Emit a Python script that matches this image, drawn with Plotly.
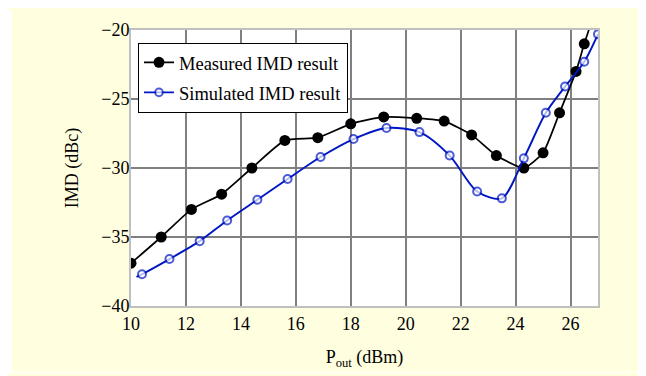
import plotly.graph_objects as go

meas_x = [10.0, 11.1, 12.2, 13.3, 14.4, 15.6, 16.8, 18.0, 19.2, 20.4, 21.4, 22.4, 23.3, 24.3, 25.0, 25.6, 26.2, 26.5, 26.9]
meas_y = [-36.9, -35.0, -33.0, -31.9, -30.0, -28.0, -27.8, -26.8, -26.3, -26.4, -26.6, -27.6, -29.1, -30.0, -28.9, -26.0, -23.0, -21.0, -18.6]

sim_x = [10.2, 10.4, 11.4, 12.5, 13.5, 14.6, 15.7, 16.9, 18.1, 19.3, 20.5, 21.6, 22.6, 23.5, 24.3, 25.1, 25.8, 26.5, 27.0]
sim_y = [-37.9, -37.7, -36.6, -35.3, -33.8, -32.3, -30.8, -29.2, -27.9, -27.1, -27.4, -29.1, -31.7, -32.2, -29.3, -26.0, -24.1, -22.3, -20.3]

x_ticks = [10, 12, 14, 16, 18, 20, 22, 24, 26]
y_ticks = [-40, -35, -30, -25, -20]

FONT = "Liberation Serif"
BLUE = "#0016C4"
CREAM = "#FFFFE0"

fig = go.Figure()
fig.add_trace(go.Scatter(
    x=meas_x, y=meas_y, mode="lines+markers", name="Measured IMD result",
    line=dict(color="black", width=1.7, shape="spline", smoothing=0.5),
    marker=dict(symbol="circle", size=11, color="black"),
    legendgroup="m",
))
fig.add_trace(go.Scatter(
    x=sim_x, y=sim_y, mode="lines+markers", name="Simulated IMD result",
    line=dict(color=BLUE, width=1.9, shape="spline", smoothing=0.8),
    marker=dict(symbol="circle", size=[0] + [8] * (len(sim_x) - 1), color="white",
                line=dict(color=BLUE, width=2)),
    legendgroup="s",
))

# page has an 8px body margin; figure is sized to fill the rest of the window
W, H = 638, 368
ml, mr, mt, mb = 123, 48, 20, 68
pw, ph = W - ml - mr, H - mt - mb

def px_x(p):
    return (p - ml) / pw

def px_y(p):
    return 1 - (p - mt) / ph

shapes = [
    dict(type="rect", xref="paper", yref="paper", x0=px_x(0), x1=px_x(4), y0=px_y(H), y1=px_y(0),
         fillcolor="white", line_width=0, layer="below"),
    dict(type="rect", xref="paper", yref="paper", x0=px_x(0), x1=px_x(W), y0=px_y(H), y1=px_y(367),
         fillcolor="white", line_width=0, layer="below"),
]

fig.update_layout(
    width=W, height=H,
    margin=dict(l=ml, r=mr, t=mt, b=mb, pad=0),
    paper_bgcolor=CREAM, plot_bgcolor="white",
    font=dict(family=FONT, size=18, color="black"),
    shapes=shapes,
    showlegend=True,
    legend=dict(
        x=px_x(130), y=px_y(33), xanchor="left", yanchor="top",
        bgcolor="white", bordercolor="black", borderwidth=1,
        font=dict(family=FONT, size=18.5, color="black"),
        tracegroupgap=3, itemwidth=30,
        entrywidth=218, entrywidthmode="pixels",
    ),
    xaxis=dict(
        range=[10, 27], tickvals=x_ticks, ticktext=[str(v) for v in x_ticks],
        showgrid=True, gridcolor="#808080", gridwidth=2,
        showline=True, linecolor="#C0C0C0", linewidth=2, mirror=True,
        ticks="", zeroline=False,
        title=dict(text="P<sub>out</sub> (dBm)", standoff=18, font=dict(size=18)),
        tickfont=dict(size=18),
    ),
    yaxis=dict(
        range=[-40, -20], tickvals=y_ticks,
        showgrid=True, gridcolor="#808080", gridwidth=2,
        showline=True, linecolor="#C0C0C0", linewidth=2, mirror=True,
        ticks="", zeroline=False, ticklabelstandoff=-4,
        title=dict(text="IMD (dBc)", standoff=18, font=dict(size=18)),
        tickfont=dict(size=18),
    ),
)

fig.write_html("out.html")
